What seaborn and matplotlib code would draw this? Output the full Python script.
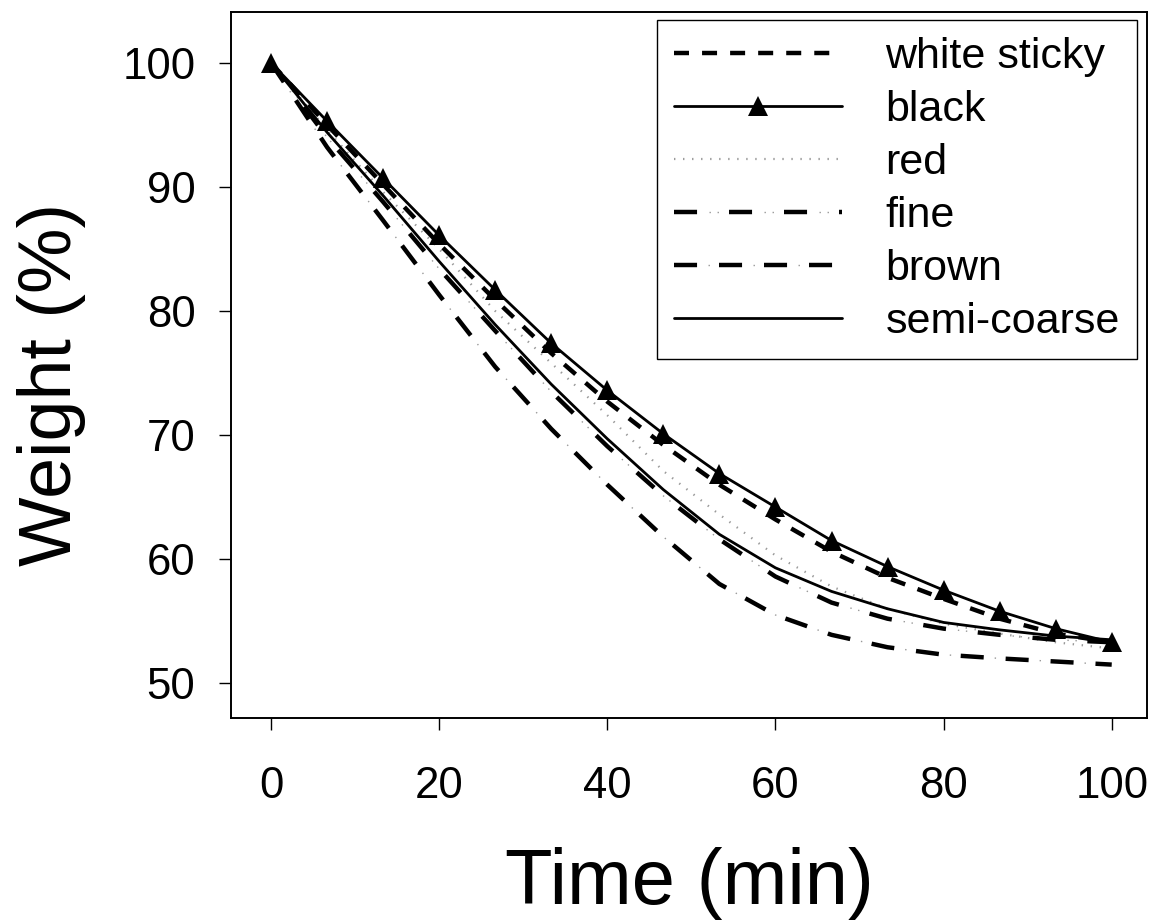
import numpy as np
import pandas as pd
import matplotlib
matplotlib.use('Agg')
import matplotlib.pyplot as plt
import seaborn as sns
from matplotlib.legend_handler import HandlerTuple

# time grid (min) and weight (%)
time = [0, 6.67, 13.33, 20, 26.67, 33.33, 40, 46.67, 53.33, 60,
        66.67, 73.33, 80, 86.67, 93.33, 100]
white_sticky = [100, 95.0, 90.2, 85.4, 80.9, 76.6, 72.7, 69.2, 66.0, 63.2,
                60.6, 58.5, 56.8, 55.2, 54.0, 53.3]
black = [100, 95.3, 90.7, 86.1, 81.7, 77.4, 73.6, 70.1, 66.9, 64.2,
         61.5, 59.4, 57.5, 55.8, 54.4, 53.3]
red = [100, 94.6, 89.6, 85.0, 80.0, 75.8, 71.6, 67.1, 63.6, 60.3,
       57.8, 56.0, 54.8, 54.0, 53.3, 52.8]
fine = [100, 94.0, 88.8, 83.4, 78.4, 73.5, 69.1, 65.1, 61.6, 58.6,
        56.5, 55.2, 54.4, 53.9, 53.5, 53.3]
brown = [100, 93.2, 87.3, 81.3, 75.5, 70.5, 66.0, 61.8, 58.0, 55.5,
         53.9, 52.9, 52.3, 52.0, 51.75, 51.5]
semi_coarse = [100, 94.4, 89.3, 84.0, 78.9, 74.1, 69.7, 65.6, 62.0, 59.3,
               57.4, 56.0, 54.9, 54.3, 53.8, 53.5]

sns.set_theme(style='ticks')
plt.rcParams['font.family'] = ['Liberation Sans', 'DejaVu Sans']
plt.rcParams['text.color'] = 'black'
plt.rcParams['lines.scale_dashes'] = False

fig = plt.figure(figsize=(11.55, 9.22), dpi=100)
ax = fig.add_axes([0.2, 0.2213, 0.7931, 0.7657])


def draw(y, **kw):
    sns.lineplot(x=time, y=y, ax=ax, sort=False, **kw)
    return ax.lines[-1]


# red: thin light gray dotted
h_red = draw(red, color='#9a9a9a', lw=1.6, linestyle=(0, (1.0, 5.5)))

# brown: thick dash with a tiny gray dot in each gap
h_brown = draw(brown, color='black', lw=3.2, linestyle=(0, (16.6, 15.8)))
h_brown_dot = draw(brown, color='#999999', lw=1.0, linestyle=(7.9, (1.0, 31.4)))

# fine: thick dash with two tiny gray dots
h_fine = draw(fine, color='black', lw=3.2, linestyle=(0, (16.6, 23.0)))
h_fine_dot = draw(fine, color='#999999', lw=1.0,
                  linestyle=(14.4, (1.0, 4.8, 1.0, 32.8)))

h_semi = draw(semi_coarse, color='black', lw=2.0)
h_white = draw(white_sticky, color='black', lw=3.2, linestyle=(0, (10.8, 9.4)))
h_black = draw(black, color='black', lw=2.0, marker='^', markersize=14,
               markeredgewidth=0)

ax.set_xlim(-4.76, 104.2)
ax.set_ylim(47.2, 104.1)
ax.set_xticks([0, 20, 40, 60, 80, 100])
ax.set_yticks([50, 60, 70, 80, 90, 100])
ax.tick_params(axis='both', direction='out', length=8.6, width=1.0,
               labelsize=31.5, color='black', labelcolor='black')
ax.tick_params(axis='x', pad=26)
ax.tick_params(axis='y', pad=17)
for sp in ax.spines.values():
    sp.set_visible(True)
    sp.set_linewidth(1.4)
    sp.set_color('black')

ax.set_xlabel('Time (min)', fontsize=56, color='black')
ax.set_ylabel('Weight (%)', fontsize=53, color='black')
ax.xaxis.set_label_coords(0.5, -0.183)
ax.yaxis.set_label_coords(-0.158, 0.472)

handles = [h_white, h_black, h_red, (h_fine, h_fine_dot),
           (h_brown, h_brown_dot), h_semi]
labels = ['white sticky', 'black', 'red', 'fine', 'brown', 'semi-coarse']
leg = ax.legend(handles, labels, loc='upper right',
                bbox_to_anchor=(0.989, 0.9887), borderaxespad=0,
                fontsize=31, handlelength=3.9, handletextpad=1.0,
                labelspacing=0.3, borderpad=0.4, fancybox=False,
                framealpha=1, edgecolor='black',
                handler_map={tuple: HandlerTuple(ndivide=1, pad=0)})
leg.get_frame().set_linewidth(1.0)

fig.savefig('out.png', dpi=100)
